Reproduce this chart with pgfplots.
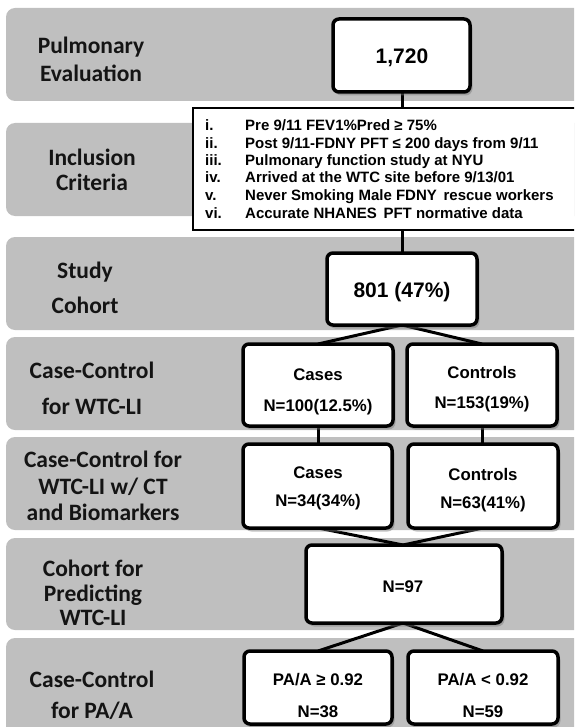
\documentclass[border=0pt]{standalone}
\usepackage{pgfplots}
\pgfplotsset{compat=1.18}
\usepackage{fontspec}
\setmainfont{Liberation Sans}
\newfontfamily\calfont{Carlito}
\definecolor{band}{RGB}{191,191,191}
\definecolor{shadow}{RGB}{120,120,120}
\begin{document}
\begin{tikzpicture}[x=1pt,y=1pt]
\path[use as bounding box, clip] (0,0) rectangle (574,727);
\begin{axis}[at={(0,0)}, anchor=south west, width=574pt, height=727pt, scale only axis,
  xmin=0, xmax=574, ymin=0, ymax=727, y dir=reverse, axis lines=none, clip=false]
% bands
\fill[band, rounded corners=9pt] (axis cs:6,8) rectangle (axis cs:620,101);
\fill[band, rounded corners=9pt] (axis cs:6,123) rectangle (axis cs:620,216);
\fill[band, rounded corners=9pt] (axis cs:6,237) rectangle (axis cs:620,330);
\fill[band, rounded corners=9pt] (axis cs:6,337) rectangle (axis cs:620,430);
\fill[band, rounded corners=9pt] (axis cs:6,437) rectangle (axis cs:620,530);
\fill[band, rounded corners=9pt] (axis cs:6,538) rectangle (axis cs:620,630);
\fill[band, rounded corners=9pt] (axis cs:6,638) rectangle (axis cs:620,740);
% connectors
\addplot[black, line width=3pt, no marks] coordinates {(402,92) (402,108)};
\addplot[black, line width=3pt, no marks] coordinates {(402,230) (402,253)};
\addplot[black, line width=3pt, no marks] coordinates {(318,344) (402,325) (482,344)};
\addplot[black, line width=3pt, no marks] coordinates {(318,426) (318,444)};
\addplot[black, line width=3pt, no marks] coordinates {(482,426) (482,444)};
\addplot[black, line width=3pt, no marks] coordinates {(318,528) (403,545) (483,528)};
\addplot[black, line width=3pt, no marks] coordinates {(318,651) (403,623) (483,651)};
% boxes with soft shadow
\tikzset{bx/.style={draw=black, fill=white, line width=3.5pt, rounded corners=6pt},
         sh/.style={fill=shadow, opacity=0.45, rounded corners=7pt}}
\newcommand{\bxx}[4]{%
  \fill[sh] (axis cs:#1+1.5,#2+2.5) rectangle (axis cs:#3+2.5,#4+3.5);
  \path[bx] (axis cs:#1,#2) rectangle (axis cs:#3,#4);}
\bxx{333}{19}{470}{92}
\path[draw=black, fill=white, line width=2.5pt] (axis cs:193,108) rectangle (axis cs:600,230);
\bxx{327}{253}{477}{325}
\bxx{243}{344}{393}{426}
\bxx{407}{344}{557}{426}
\bxx{243}{444}{392}{528}
\bxx{408}{444}{558}{528}
\bxx{306}{545}{502}{623}
\bxx{244}{651}{392}{724}
\bxx{408}{651}{558}{724}
% row labels
\tikzset{rl/.style={font=\calfont\bfseries\fontsize{23.5}{26}\selectfont, inner sep=0pt, anchor=base, text=black!92}}
\node[rl] at (axis cs:91,54) {Pulmonary};
\node[rl] at (axis cs:91,82) {Evaluation};
\node[rl] at (axis cs:92,165) {Inclusion};
\node[rl] at (axis cs:92,190) {Criteria};
\node[rl] at (axis cs:85,278) {Study};
\node[rl] at (axis cs:85,313) {Cohort};
\node[rl] at (axis cs:92,378) {Case-Control};
\node[rl] at (axis cs:92,414) {for WTC-LI};
\node[rl] at (axis cs:103,467) {Case-Control for};
\node[rl] at (axis cs:103,494) {WTC-LI w/ CT};
\node[rl] at (axis cs:103,520) {and Biomarkers};
\node[rl] at (axis cs:93,576) {Cohort for};
\node[rl] at (axis cs:93,601) {Predicting};
\node[rl] at (axis cs:93,625) {WTC-LI};
\node[rl] at (axis cs:92,687) {Case-Control};
\node[rl] at (axis cs:92,718) {for PA/A};
% box texts
\tikzset{bt/.style={font=\bfseries\fontsize{21}{24}\selectfont, inner sep=0pt, anchor=base},
         st/.style={font=\bfseries\fontsize{16.8}{20}\selectfont, inner sep=0pt, anchor=base},
         ct/.style={font=\bfseries\fontsize{15}{16}\selectfont, inner sep=0pt, anchor=base west}}
\node[bt] at (axis cs:402,64) {1,720};
\node[bt] at (axis cs:402,297) {801 (47\%)};
\node[st] at (axis cs:318,380) {Cases};
\node[st] at (axis cs:318,411) {N=100(12.5\%)};
\node[st] at (axis cs:482,378) {Controls};
\node[st] at (axis cs:482,408) {N=153(19\%)};
\node[st] at (axis cs:318,478) {Cases};
\node[st] at (axis cs:318,506) {N=34(34\%)};
\node[st] at (axis cs:483,480) {Controls};
\node[st] at (axis cs:483,508) {N=63(41\%)};
\node[st] at (axis cs:403,592) {N=97};
\node[st] at (axis cs:318,685) {PA/A ≥ 0.92};
\node[st] at (axis cs:318,717) {N=38};
\node[st] at (axis cs:483,685) {PA/A < 0.92};
\node[st] at (axis cs:483,717) {N=59};
% criteria
\node[ct] at (axis cs:205,130.5) {i.};
\node[ct] at (axis cs:205,148.5) {ii.};
\node[ct] at (axis cs:205,165.5) {iii.};
\node[ct] at (axis cs:205,182.5) {iv.};
\node[ct] at (axis cs:205,200.5) {v.};
\node[ct] at (axis cs:205,218.5) {vi.};
\node[ct] at (axis cs:245,130.5) {Pre 9/11 FEV1\%Pred ≥ 75\%};
\node[ct] at (axis cs:245,148.5) {Post 9/11-FDNY PFT ≤ 200 days from 9/11};
\node[ct] at (axis cs:245,165.5) {Pulmonary function study at NYU};
\node[ct] at (axis cs:245,182.5) {Arrived at the WTC site before 9/13/01};
\node[ct] at (axis cs:245,200.5) {Never Smoking Male FDNY\, rescue workers};
\node[ct] at (axis cs:245,218.5) {Accurate NHANES\, PFT normative data};
\end{axis}
\end{tikzpicture}
\end{document}
